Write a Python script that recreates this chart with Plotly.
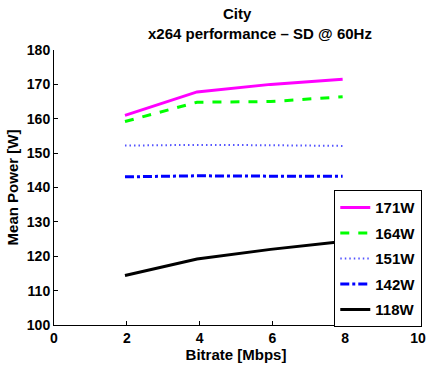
import plotly.graph_objects as go

bitrate = [1.95, 3.93, 5.95, 7.93]
p171 = [161.0, 167.8, 170.0, 171.5]
p164 = [159.2, 164.8, 165.0, 166.4]
p151 = [152.2, 152.4, 152.3, 152.1]
p142 = [143.1, 143.4, 143.3, 143.3]
p118 = [114.4, 119.2, 122.0, 124.3]

names = ["171W", "164W", "151W", "142W", "118W"]
series = [p171, p164, p151, p142, p118]
styles = [
    dict(color="#ff00ff", width=3, dash="solid"),
    dict(color="#00ff00", width=3, dash="dash"),
    dict(color="#5555ff", width=2, dash="1.5px,3px"),
    dict(color="#0000ff", width=3, dash="dashdot"),
    dict(color="#000000", width=3, dash="solid"),
]

FONT = "Liberation Sans, Arial, sans-serif"
fig = go.Figure()
for i, (n, s, st) in enumerate(zip(names, series, styles)):
    fig.add_trace(go.Scatter(x=bitrate, y=s, mode="lines", name=n, line=st,
                             legendgroup=str(i)))

fig.update_layout(
    width=435, height=368,
    margin=dict(l=54, r=9, t=50, b=43),
    paper_bgcolor="white", plot_bgcolor="white",
    font=dict(family=FONT, size=13, color="black"),
    showlegend=True,
    legend=dict(x=0.77, y=0.49, xanchor="left", yanchor="top",
                bordercolor="black", borderwidth=1, bgcolor="white",
                font=dict(family=FONT, size=15, color="black", weight="bold"),
                traceorder="grouped", tracegroupgap=3, itemwidth=30),
    xaxis=dict(range=[0, 10], tickvals=[0, 2, 4, 6, 8, 10], showgrid=False,
               zeroline=False, showline=True, linecolor="black", linewidth=1,
               ticks="inside", ticklen=4, tickcolor="black",
               tickfont=dict(family=FONT, size=14, weight="bold"),
               title=dict(text="<b>Bitrate [Mbps]</b>", standoff=0,
                          font=dict(family=FONT, size=15))),
    yaxis=dict(range=[100, 180], tickvals=list(range(100, 181, 10)), showgrid=False,
               zeroline=False, showline=True, linecolor="black", linewidth=1,
               ticks="inside", ticklen=4, tickcolor="black",
               tickfont=dict(family=FONT, size=14, weight="bold"),
               title=dict(text="<b>Mean Power [W]</b>", standoff=4,
                          font=dict(family=FONT, size=15))),
    annotations=[
        dict(text="<b>City</b>", xref="paper", yref="paper", x=0.505, y=1.0,
             yshift=37, xanchor="center", yanchor="middle", showarrow=False,
             font=dict(family=FONT, size=15)),
        dict(text="<b>x264 performance – SD @ 60Hz</b>", xref="paper", yref="paper",
             x=0.565, y=1.0, yshift=17, xanchor="center", yanchor="middle",
             showarrow=False, font=dict(family=FONT, size=15)),
    ],
)

fig.write_html("out.html")
